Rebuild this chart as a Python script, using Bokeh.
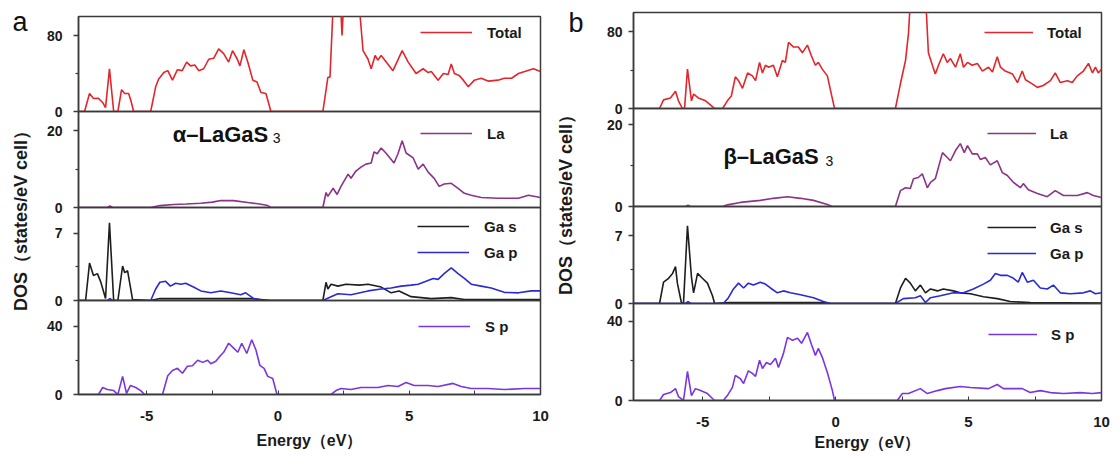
from bokeh.plotting import figure
from bokeh.models import Range1d, FixedTicker, Legend, LegendItem, Label
from bokeh.layouts import row, column
from bokeh.embed import file_html
from bokeh.resources import INLINE

# ---------------- data ----------------
energy_ticks = [-5, 0, 5, 10]
energy_tick_labels = ["-5", "0", "5", "10"]
energy_minor_ticks = [-2.5, 2.5, 7.5]
energy_range = [-7.6, 10.0]

total_ticks, total_minor = [0, 80], [40]
la_ticks, la_minor = [0, 20], [10]
ga_ticks, ga_minor = [0, 7], [3.5]
sp_ticks, sp_minor = [0, 40], [20]

series_names = ["Total", "La", "Ga s", "Ga p", "S p"]
series_colors = ["#e2262b", "#8b3289", "#1e1e1e", "#2a2ad2", "#7a36de"]

# panel a (alpha-LaGaS3)
a_total_E = [-7.6, -7.37, -7.18, -7.03, -6.85, -6.68, -6.57, -6.42, -6.26, -6.1,
             -5.96, -5.84, -5.69, -5.6, -5.5, -4.85, -4.66, -4.55, -4.35, -4.2,
             -4.02, -3.83, -3.65, -3.48, -3.33, -3.17, -3.02, -2.83, -2.64, -2.45,
             -2.26, -2.07, -1.88, -1.73, -1.55, -1.45, -1.3, -1.14, -0.96, -0.8,
             -0.65, -0.46, -0.27, 1.71, 1.9, 1.98, 2.13, 2.36, 2.44, 2.52,
             3.08, 3.13, 3.24, 3.43, 3.55, 3.7, 3.8, 3.93, 4.38, 4.73,
             4.96, 5.26, 5.53, 5.72, 5.84, 6.1, 6.3, 6.48, 6.6, 6.72,
             6.9, 7.06, 7.25, 7.48, 7.74, 8.0, 8.38, 8.62, 8.9, 9.16,
             9.4, 9.73, 10.0]
a_total_dos = [0, 0, 19, 13.7, 14, 9.5, 4, 45, 0, 0,
               23, 19, 19, 11, 0, 0, 26, 34, 41, 43,
               33, 44, 43, 52, 48, 49, 43, 45, 55, 56,
               66, 61, 52, 64, 55, 48, 65, 51, 33, 31,
               20, 19, 0, 0, 36, 36, 130, 125, 80, 125,
               125, 100, 64, 55, 45, 59, 54, 59, 43, 64,
               52, 40, 45, 41, 42, 33, 40, 39, 50, 40,
               38, 33, 26, 33, 35, 32, 33, 35, 35, 40,
               42, 45, 42]

a_la_E = [-7.6, -6.5, -6.4, -6.3, -4.85, -4.5, -3.97, -3.5, -2.94, -2.5,
          -2.18, -1.7, -1.15, -0.7, -0.39, -0.27, 1.71, 1.83, 1.9, 2.1,
          2.25, 2.4, 2.67, 2.78, 2.97, 3.16, 3.35, 3.55, 3.66, 3.78,
          3.93, 4.11, 4.42, 4.57, 4.73, 4.88, 5.15, 5.34, 5.53, 5.72,
          5.95, 6.14, 6.33, 6.6, 6.86, 7.1, 7.36, 7.74, 8.38, 9.16,
          9.54, 10.0]
a_la_dos = [0, 0, 0.4, 0, 0, 0.5, 0.8, 0.9, 1.1, 1.4,
            1.8, 1.8, 1.3, 0.9, 0.5, 0, 0, 3.9, 2.9, 5,
            3.4, 5.5, 8.7, 7.6, 9.5, 10.5, 11.3, 11.6, 14.5, 14,
            15.5, 14.2, 11.6, 14, 17.4, 14.2, 12.9, 10, 11.3, 9.2,
            7.6, 5.5, 6.1, 6.3, 5, 3.7, 3.2, 2.6, 2.4, 2.4,
            3.2, 2.6]

a_gas_E = [-7.6, -7.33, -7.18, -7.03, -6.88, -6.76, -6.57, -6.42, -6.26, -6.1,
           -5.92, -5.84, -5.73, -5.54, -4.85, -4.5, -1.0, -0.3, 1.71, 1.83,
           1.9, 2.02, 2.28, 2.59, 3.1, 3.43, 3.93, 4.31, 4.61, 5.07,
           5.84, 6.6, 7.1, 8.0, 10.0]
a_gas_dos = [0, 0, 3.9, 2.6, 2.8, 2.0, 0.2, 8.1, 0, 0,
             3.6, 2.9, 3.1, 0.1, 0, 0.2, 0.2, 0, 0, 1.9,
             1.2, 1.7, 1.5, 1.7, 1.6, 1.7, 1.4, 0.8, 1.0, 0.4,
             0.2, 0.3, 0.1, 0.1, 0.1]

a_gap_E = [-7.6, -6.5, -6.4, -6.3, -4.85, -4.66, -4.5, -4.28, -4.1, -3.9,
           -3.7, -3.52, -3.22, -2.94, -2.56, -2.18, -1.8, -1.42, -1.23, -0.92,
           -0.55, 1.71, 2.02, 2.28, 2.78, 3.43, 3.93, 4.31, 4.69, 5.07,
           5.34, 5.64, 5.91, 6.1, 6.33, 6.6, 6.86, 7.1, 7.36, 7.74,
           8.12, 8.62, 9.16, 9.65, 10.0]
a_gap_dos = [0, 0, 0.2, 0, 0, 1.2, 1.9, 2.0, 1.5, 1.8,
             1.7, 1.8, 1.4, 1.0, 0.8, 1.0, 0.8, 0.6, 0.8, 0.2,
             0, 0, 0.4, 0.7, 0.6, 1.0, 1.2, 1.3, 1.5, 1.6,
             1.7, 2.0, 2.3, 2.2, 2.8, 3.4, 2.8, 2.3, 1.7, 1.5,
             1.3, 0.85, 0.8, 1.0, 1.0]

a_sp_E = [-7.6, -6.84, -6.68, -6.5, -6.26, -6.1, -5.92, -5.77, -5.62, -5.42,
          -5.23, -5.08, -4.4, -4.2, -4.02, -3.83, -3.64, -3.45, -3.26, -3.06,
          -2.87, -2.68, -2.56, -2.37, -2.18, -2.07, -1.88, -1.68, -1.53, -1.38,
          -1.19, -1.0, -0.84, -0.69, -0.53, -0.39, -0.2, -0.04, 2.02, 2.21,
          2.4, 2.78, 3.16, 3.81, 4.19, 4.57, 4.88, 5.19, 5.72, 6.1,
          6.67, 6.98, 7.36, 8.0, 8.62, 9.39, 10.0]
a_sp_dos = [0, 0, 4.1, 2.9, 2.3, 0, 10.6, 0.6, 5.3, 4.1,
            2.3, 0, 0, 11, 14, 15.3, 12.4, 16.5, 16.8, 20,
            18.8, 20, 18, 19.4, 23, 24.7, 30, 27, 24.7, 30,
            24, 32, 26, 17, 15.3, 10.6, 9.4, 0, 0, 2.3,
            3.5, 2.9, 4.1, 4.1, 5.3, 4.7, 7.0, 5.3, 5.3, 4.7,
            6.5, 4.7, 3.5, 3.5, 2.9, 3.5, 3.5]

# panel b (beta-LaGaS3)
b_total_E = [-7.6, -6.62, -6.47, -6.21, -6.02, -5.91, -5.76, -5.68, -5.57, -5.42,
             -5.34, -5.16, -4.89, -4.63, -4.55, -4.25, -4.07, -3.92, -3.77, -3.65,
             -3.5, -3.31, -3.13, -3.01, -2.86, -2.75, -2.64, -2.52, -2.34, -2.19,
             -2.0, -1.89, -1.77, -1.58, -1.4, -1.25, -1.06, -0.91, -0.76, -0.65,
             -0.5, -0.31, -0.12, -0.04, 2.25, 2.44, 2.63, 2.74, 2.85, 3.36,
             3.49, 3.64, 3.75, 3.87, 4.05, 4.2, 4.32, 4.51, 4.69, 4.81,
             4.96, 5.14, 5.33, 5.52, 5.75, 5.9, 6.08, 6.2, 6.38, 6.65,
             6.84, 7.02, 7.14, 7.32, 7.59, 7.81, 8.08, 8.26, 8.45, 8.72,
             8.9, 9.09, 9.32, 9.51, 9.66, 9.77, 9.88, 10.0]
b_total_dos = [0, 0, 9, 11, 18, 8, 0, 0, 41, 8,
               15, 11, 8, 2, 0, 0, 8, 13, 33, 29,
               21, 37, 34, 29, 48, 37, 45, 43, 45, 33,
               50, 48, 69, 64, 64, 58, 66, 55, 45, 48,
               41, 34, 10, 0, 0, 26, 50, 78, 130, 130,
               58, 45, 36, 45, 57, 48, 52, 43, 57, 43,
               48, 45, 47, 39, 43, 38, 54, 43, 39, 36,
               27, 39, 30, 27, 22, 24, 29, 37, 27, 29,
               27, 34, 39, 47, 37, 43, 37, 41]

b_la_E = [-7.6, -5.65, -5.55, -5.45, -4.25, -4.07, -3.58, -2.83, -2.34, -1.81,
          -1.32, -0.83, -0.31, -0.12, 2.25, 2.44, 2.63, 2.81, 2.93, 3.11,
          3.26, 3.45, 3.57, 3.75, 4.02, 4.2, 4.32, 4.51, 4.69, 4.84,
          4.96, 5.14, 5.33, 5.45, 5.63, 5.82, 6.08, 6.27, 6.46, 6.69,
          6.95, 7.06, 7.25, 7.59, 7.96, 8.26, 8.57, 9.09, 9.47, 9.69,
          10.0]
b_la_dos = [0, 0, 0.3, 0, 0, 0.4, 1.0, 1.5, 2.0, 2.4,
            2.0, 1.5, 0.5, 0, 0, 3.9, 4.6, 4.4, 6.8, 7.1,
            8.0, 4.6, 5.9, 6.8, 13.2, 12.0, 11.2, 13.7, 15.4, 13.2,
            14.9, 12.9, 12.9, 11.5, 12.0, 10.2, 11.2, 8.3, 7.6, 5.9,
            4.6, 5.6, 4.1, 3.2, 2.4, 3.9, 2.7, 2.7, 3.4, 2.7,
            2.2]

b_gas_E = [-7.6, -6.62, -6.47, -6.28, -6.13, -6.02, -5.95, -5.8, -5.72, -5.57,
           -5.42, -5.34, -5.19, -5.01, -4.82, -4.63, -4.55, -4.0, -0.5, -0.2,
           2.25, 2.44, 2.63, 2.81, 3.0, 3.19, 3.38, 3.57, 3.83, 4.05,
           4.43, 4.69, 5.07, 5.56, 6.08, 6.57, 7.32, 10.0]
b_gas_dos = [0, 0, 2.2, 2.6, 3.1, 3.8, 2.1, 0.1, 0, 8.0,
             2.7, 1.1, 3.1, 2.6, 2.1, 0.8, 0, 0.1, 0.1, 0,
             0, 1.6, 2.6, 2.1, 1.3, 1.9, 1.1, 1.5, 1.3, 1.5,
             1.3, 1.1, 1.0, 0.7, 0.5, 0.2, 0.1, 0.05]

b_gap_E = [-7.6, -5.65, -5.55, -5.45, -4.22, -4.03, -3.84, -3.65, -3.46, -3.28,
           -3.09, -2.83, -2.64, -2.45, -2.19, -1.96, -1.7, -1.32, -0.83, -0.46,
           -0.19, 2.25, 2.55, 3.0, 3.19, 3.38, 3.57, 3.94, 4.43, 4.81,
           5.18, 5.56, 5.82, 6.01, 6.2, 6.46, 6.69, 6.87, 7.02, 7.21,
           7.44, 7.7, 7.96, 8.19, 8.45, 8.83, 9.32, 9.58, 9.77, 10.0]
b_gap_dos = [0, 0, 0.2, 0, 0, 0.6, 1.5, 2.1, 1.6, 2.1,
             1.9, 2.2, 2.0, 1.6, 1.1, 1.3, 1.1, 0.9, 0.6, 0.2,
             0, 0, 0.5, 0.6, 0.8, 0.1, 0.6, 0.8, 1.1, 1.1,
             1.5, 2.0, 2.4, 3.1, 2.9, 2.9, 2.6, 2.2, 3.2, 2.2,
             2.4, 1.6, 1.5, 1.9, 1.1, 1.0, 1.1, 1.3, 1.0, 1.1]

b_sp_E = [-7.6, -6.62, -6.47, -6.21, -6.02, -5.91, -5.72, -5.57, -5.42, -5.27,
          -5.08, -4.82, -4.63, -4.55, -4.22, -4.07, -3.88, -3.77, -3.58, -3.46,
          -3.28, -3.13, -3.01, -2.86, -2.75, -2.6, -2.45, -2.26, -2.15, -1.96,
          -1.81, -1.62, -1.43, -1.28, -1.06, -0.91, -0.76, -0.65, -0.5, -0.31,
          -0.12, -0.04, 2.32, 2.51, 2.74, 3.19, 3.45, 3.83, 4.13, 4.69,
          5.07, 5.75, 6.08, 6.31, 7.02, 7.32, 7.7, 8.08, 8.57, 9.2,
          9.66, 10.0]
b_sp_dos = [0, 0, 3, 4, 6, 2, 0, 14.7, 2.5, 6,
            5, 3.5, 1, 0, 0, 2.5, 6.6, 12.7, 11, 8.6,
            15, 13.7, 12.2, 20.3, 16.2, 19.2, 18.2, 21.3, 16.7, 23.8,
            31.9, 30.4, 31.4, 28.9, 34.4, 28.4, 22.8, 26.3, 21.8, 14.2,
            5, 0, 0, 3.5, 3.5, 6, 3.5, 5, 6, 7.1,
            6.6, 6, 8.1, 6, 6, 4, 5, 4, 3.5, 4,
            3.5, 4]

panel_letters = ["a", "b"]
compound_names = ["α–LaGaS", "β–LaGaS"]
compound_sub = "3"
y_title = "DOS（states/eV cell）"
x_title = "Energy（eV）"

# ---------------- styling / layout ----------------
FONT = "Liberation Sans"
H = 455
FRAME = "#3a3a3a"
LW = 1.6

GEO = {
    "a": dict(W=550, left=78, fw=462, tops=[16, 111, 207, 300], fhs=[95, 96, 93, 94],
              ymax=[100, 25, 9.7, 55], ytick_standoff=11,
              lab_top=36, lab_fh=360, lab_standoff=48,
              letter_offset=-66, letter_standoff=0,
              x_standoff=16, x_label_standoff=8,
              leg_glyph=52, leg_standoff=15,
              leg_loc=[(342, 69), (342, 64), (339, 38), (340, 58)],
              comp_xy=(-4.01, 18.9), sub_xy=(-0.2, 18.1)),
    "b": dict(W=566, left=83, fw=468, tops=[12, 108, 206, 303], fhs=[96, 98, 97, 97],
              ymax=[100, 24, 10, 49], ytick_standoff=6,
              lab_top=37, lab_fh=326, lab_standoff=58,
              letter_offset=-65, letter_standoff=0,
              x_standoff=16, x_label_standoff=4,
              leg_glyph=49, leg_standoff=14,
              leg_loc=[(351, 66), (354, 63), (354, 40), (355, 56)],
              comp_xy=(-4.22, 12.2), sub_xy=(-0.38, 11.2)),
}


def new_fig(g, top, fh, y_range, show_x=False, first=False):
    W = g["W"]
    p = figure(width=W, height=H, title="",
               x_range=Range1d(*energy_range), y_range=y_range,
               output_backend="svg", toolbar_location=None,
               x_axis_location="below" if show_x else None,
               min_border_left=g["left"], min_border_right=W - g["left"] - g["fw"],
               min_border_top=top, min_border_bottom=H - top - fh)
    p.background_fill_color = None
    p.border_fill_color = None
    p.grid.visible = False
    p.outline_line_color = FRAME
    p.outline_line_width = 1.5
    if not first:
        p.styles = {"margin-top": f"-{H}px"}
    return p


def style_y(p, g, ticks, minors):
    ax = p.yaxis[0]
    ax.ticker = FixedTicker(ticks=ticks, minor_ticks=minors)
    ax.major_tick_out = 5
    ax.major_tick_in = 0
    ax.minor_tick_out = 3
    ax.minor_tick_in = 0
    ax.axis_line_color = FRAME
    ax.axis_line_width = 1.5
    ax.major_tick_line_color = FRAME
    ax.major_tick_line_width = 1.5
    ax.minor_tick_line_color = FRAME
    ax.minor_tick_line_width = 1.2
    ax.major_label_standoff = g["ytick_standoff"]
    ax.major_label_text_font = FONT
    ax.major_label_text_font_style = "bold"
    ax.major_label_text_font_size = "14px"
    ax.major_label_text_color = "#1a1a1a"


def add_legend(p, g, idx, items):
    leg = Legend(items=[LegendItem(label=l, renderers=[r]) for l, r in items],
                 location=g["leg_loc"][idx],
                 border_line_color=None, background_fill_alpha=0,
                 padding=0, margin=0, spacing=6,
                 glyph_width=g["leg_glyph"], glyph_height=20, label_height=20,
                 label_standoff=g["leg_standoff"],
                 label_text_font=FONT, label_text_font_style="bold",
                 label_text_font_size="15px", label_text_color="#1a1a1a")
    p.add_layout(leg)


def make_panel(key, data):
    g = GEO[key]
    pi = 0 if key == "a" else 1
    (tE, tV), (lE, lV), (sE, sV), (pE, pV), (spE, spV) = data

    # holder for the shared y title and the panel letter
    lab = new_fig(g, g["lab_top"], g["lab_fh"], Range1d(0, 1), first=True)
    lab.outline_line_color = None
    lab.title.text = panel_letters[pi]
    lab.title.align = "left"
    lab.title.vertical_align = "bottom"
    lab.title.offset = g["letter_offset"]
    lab.title.standoff = g["letter_standoff"]
    lab.title.text_font = FONT
    lab.title.text_font_style = "normal"
    lab.title.text_font_size = "27px"
    lab.title.text_color = "#111111"
    ax = lab.yaxis[0]
    ax.ticker = FixedTicker(ticks=[])
    ax.axis_line_color = None
    ax.major_tick_out = 0
    ax.minor_tick_out = 0
    ax.axis_label = y_title
    ax.axis_label_standoff = g["lab_standoff"]
    ax.axis_label_text_font = FONT
    ax.axis_label_text_font_style = "bold"
    ax.axis_label_text_font_size = "18px"
    ax.axis_label_text_color = "#1a1a1a"

    ticks = [(total_ticks, total_minor), (la_ticks, la_minor),
             (ga_ticks, ga_minor), (sp_ticks, sp_minor)]
    figs = []
    for i in range(4):
        p = new_fig(g, g["tops"][i], g["fhs"][i], Range1d(0, g["ymax"][i]), show_x=(i == 3))
        style_y(p, g, *ticks[i])
        figs.append(p)

    r = figs[0].line(tE, tV, line_color=series_colors[0], line_width=LW)
    add_legend(figs[0], g, 0, [(series_names[0], r)])
    r = figs[1].line(lE, lV, line_color=series_colors[1], line_width=LW)
    add_legend(figs[1], g, 1, [(series_names[1], r)])
    r2 = figs[2].line(sE, sV, line_color=series_colors[2], line_width=LW)
    r3 = figs[2].line(pE, pV, line_color=series_colors[3], line_width=LW)
    add_legend(figs[2], g, 2, [(series_names[2], r2), (series_names[3], r3)])
    r = figs[3].line(spE, spV, line_color=series_colors[4], line_width=LW)
    add_legend(figs[3], g, 3, [(series_names[4], r)])

    # x axis on the bottom sub-plot
    xa = figs[3].xaxis[0]
    xa.ticker = FixedTicker(ticks=energy_ticks, minor_ticks=energy_minor_ticks)
    xa.major_label_overrides = {t: s for t, s in zip(energy_ticks, energy_tick_labels)}
    xa.major_tick_in = 4
    xa.major_tick_out = 0
    xa.minor_tick_in = 4
    xa.minor_tick_out = 0
    xa.axis_line_color = FRAME
    xa.axis_line_width = 1.5
    xa.major_tick_line_color = FRAME
    xa.minor_tick_line_color = FRAME
    xa.major_label_standoff = g["x_standoff"]
    xa.major_label_text_font = FONT
    xa.major_label_text_font_style = "bold"
    xa.major_label_text_font_size = "15px"
    xa.major_label_text_color = "#1a1a1a"
    xa.axis_label = x_title
    xa.axis_label_standoff = g["x_label_standoff"]
    xa.axis_label_text_font = FONT
    xa.axis_label_text_font_style = "bold"
    xa.axis_label_text_font_size = "16px"
    xa.axis_label_text_color = "#1a1a1a"

    # compound name
    cx, cy = g["comp_xy"]
    figs[1].add_layout(Label(x=cx, y=cy, text=compound_names[pi], text_font=FONT,
                             text_font_style="bold", text_font_size="22px",
                             text_color="#111111", text_baseline="alphabetic"))
    sx, sy = g["sub_xy"]
    figs[1].add_layout(Label(x=sx, y=sy, text=compound_sub, text_font=FONT,
                             text_font_size="14px", text_color="#111111",
                             text_baseline="alphabetic"))
    return column(lab, *figs)


panel_a = make_panel("a", [(a_total_E, a_total_dos), (a_la_E, a_la_dos),
                           (a_gas_E, a_gas_dos), (a_gap_E, a_gap_dos),
                           (a_sp_E, a_sp_dos)])
panel_b = make_panel("b", [(b_total_E, b_total_dos), (b_la_E, b_la_dos),
                           (b_gas_E, b_gas_dos), (b_gap_E, b_gap_dos),
                           (b_sp_E, b_sp_dos)])

layout = row(panel_a, panel_b)
open("out.html", "w").write(file_html(layout, INLINE))
